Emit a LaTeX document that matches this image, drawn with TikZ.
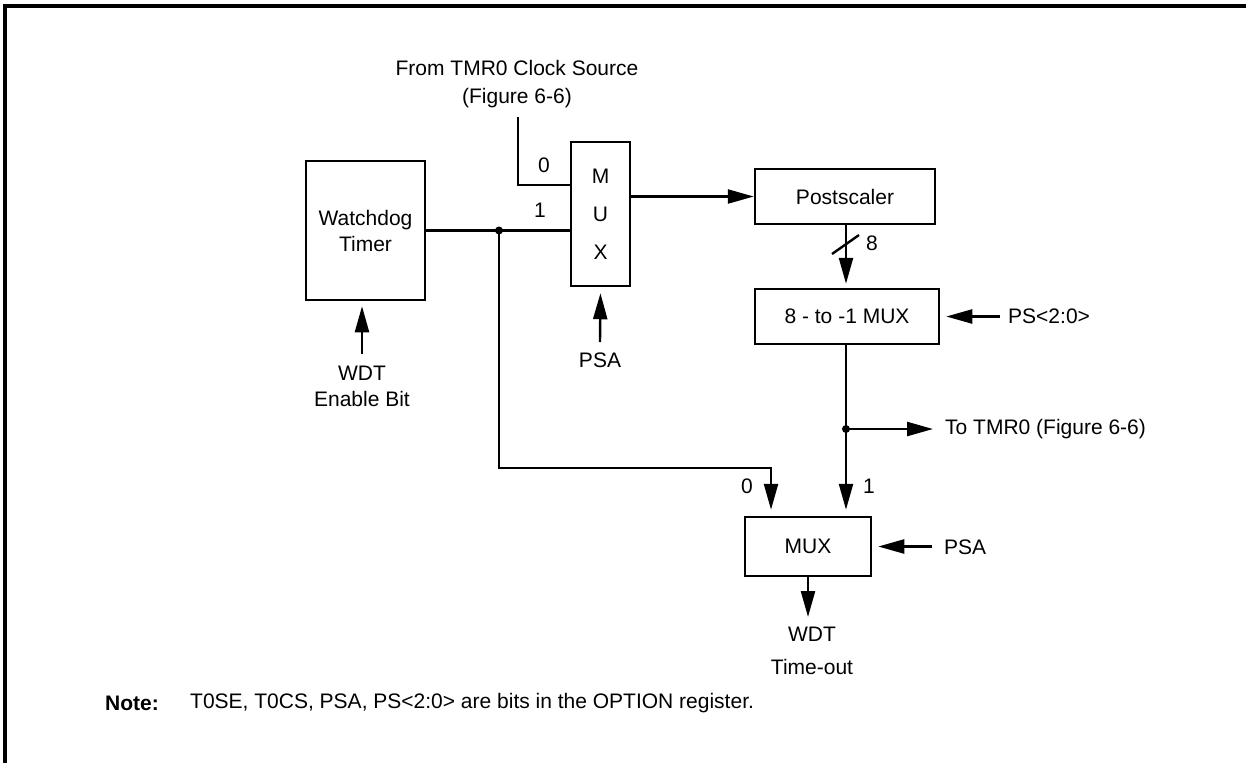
\documentclass[tikz,border=0pt]{standalone}
\usepackage{fontspec}
\setmainfont{Liberation Sans}
\usetikzlibrary{arrows.meta}
\begin{document}
\begin{tikzpicture}[x=1pt,y=-1pt,
  font=\fontsize{21}{26}\selectfont,
  blk/.style={draw, line width=2.5pt, inner sep=0pt, align=center},
  lbl/.style={inner sep=0pt, align=center},
  wire/.style={line width=2.4pt},
  arr/.style={wire, -{Triangle[length=26pt,width=14pt]}},
  gap/.style={shorten >=6pt}]
\useasboundingbox (0,0) rectangle (1246,763);
\draw[line width=4pt] (5,763) -- (5,6) -- (1246,6);

% blocks
\node[blk, minimum width=119pt, minimum height=139pt] (wdt) at (365.5,230.5) {Watchdog\\Timer};
\node[blk, minimum width=59pt, minimum height=144pt] (mux1) at (600.5,214) {M\\[12pt]U\\[12pt]X};
\node[blk, minimum width=180pt, minimum height=55pt] (post) at (845,196.5) {Postscaler};
\node[blk, minimum width=184pt, minimum height=55pt] (mux8) at (847,316.5) {8 - to -1 MUX};
\node[blk, minimum width=126pt, minimum height=59pt] (mux2) at (808,546.5) {MUX};

% texts
\node[lbl, font=\fontsize{21}{28}\selectfont] (src) at (517,84) {From TMR0 Clock Source\\(Figure 6-6)};
\node[lbl] (l0a) at (544,165) {0};
\node[lbl] (l1a) at (540,210) {1};
\node[lbl] (wdten) at (362,386) {WDT\\Enable Bit};
\node[lbl] (psa1) at (600,360) {PSA};
\node[lbl] (l8) at (872,243) {8};
\node[lbl, anchor=west] (ps) at (1008,316.5) {PS<2:0>};
\node[lbl, anchor=west] (totmr) at (945,429) {To TMR0 (Figure 6-6)};
\node[lbl] (l0b) at (747,486) {0};
\node[lbl] (l1b) at (869,486) {1};
\node[lbl, anchor=west] (psa2) at (944,547) {PSA};
\node[lbl] (wdtout) at (812,634) {WDT};
\node[lbl] (tout) at (812,667) {Time-out};
\node[lbl, anchor=west, font=\fontsize{21}{26}\selectfont\bfseries] (note) at (105,703) {Note:};
\node[lbl, anchor=west] (notetxt) at (190,703) {T0SE, T0CS, PSA, PS<2:0> are bits in the OPTION register.};

% coordinates
\coordinate (srcTop) at (518,117);
\coordinate (in0) at ([yshift=29pt]mux1.west);
\coordinate (j1) at (499,230.5);
\coordinate (bend0) at (499,468);
\coordinate (m2in0) at ([xshift=-37pt]mux2.north);
\coordinate (m2in1) at ([xshift=38pt]mux2.north);
\coordinate (j2) at (846,429);
\coordinate (toEnd) at (933,429);
\coordinate (psStart) at (1000,316.5);
\coordinate (psa2Start) at (932,546.5);
\coordinate (enStart) at (362,354);
\coordinate (psa1Start) at (600,342);
\coordinate (outEnd) at (808,617);
\coordinate (sl1) at (832,254);
\coordinate (sl2) at (859,235);

% wires
\draw[wire] (srcTop) |- (in0);
\draw[wire] (wdt.east) -- (wdt.east -| mux1.west);
\fill (j1) circle (4pt);
\draw[arr, gap] (j1) -- (bend0) -| (m2in0);
\draw[arr] (mux1.east |- post.west) -- (post.west);
\draw[arr, shorten >=4pt] (post.south -| 846,0) -- (mux8.north -| 846,0);
\draw[wire] (sl1) -- (sl2);
\draw[arr, gap] (psStart) -- (mux8.east);
\draw[arr, gap] (mux8.south -| m2in1) -- (m2in1);
\fill (j2) circle (4pt);
\draw[arr] (j2) -- (toEnd);
\draw[arr, gap] (psa2Start) -- (mux2.east);
\draw[arr] (mux2.south) -- (outEnd);
\draw[arr, shorten >=5pt] (enStart) -- (enStart |- wdt.south);
\draw[arr, gap] (psa1Start) -- (mux1.south);
\end{tikzpicture}
\end{document}
